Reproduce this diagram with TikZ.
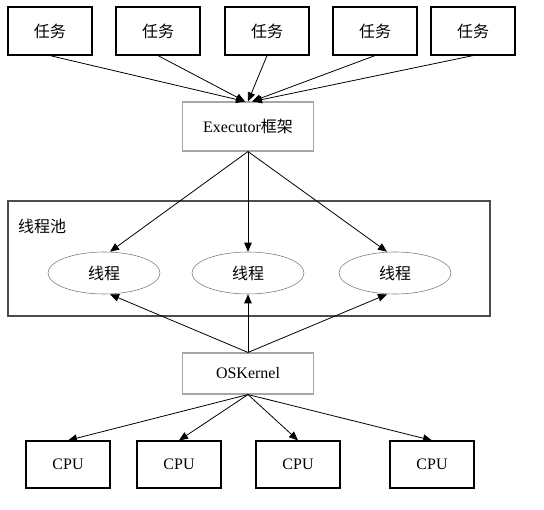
\documentclass[tikz,border=0pt]{standalone}
\usepackage{fontspec}
\setmainfont{Liberation Serif}
\newfontfamily\cjk{Noto Sans CJK SC}
\usetikzlibrary{shapes.geometric, arrows.meta}

\begin{document}
\begin{tikzpicture}[x=1pt,y=-1pt,
  font=\fontsize{16}{19}\selectfont,
  box/.style={draw, line width=1.2pt, minimum width=84pt, minimum height=48pt, inner sep=0pt},
  graybox/.style={draw=black!35, line width=1.1pt, minimum width=131pt, inner sep=0pt},
  thread/.style={ellipse, draw=black!50, line width=0.6pt, minimum width=112pt, minimum height=42pt, inner sep=0pt},
  arr/.style={-{Triangle[length=9pt,width=7.5pt]}, line width=0.8pt}]
\useasboundingbox (0,0) rectangle (544,510);
% tasks
\node[box] (t1) at (50,31) {\cjk 任务};
\node[box] (t2) at (158,31) {\cjk 任务};
\node[box] (t3) at (267,31) {\cjk 任务};
\node[box] (t4) at (375,31) {\cjk 任务};
\node[box] (t5) at (473,31) {\cjk 任务};
\node[graybox, minimum height=49pt] (exec) at (248,126.5) {Executor{\cjk 框架}};
% thread pool
\node[draw=black!70, line width=1.1pt, minimum width=482pt, minimum height=115pt, inner sep=0pt] (pool) at (249,258.5) {};
\node[anchor=west, inner sep=0pt] (poollabel) at (18,226) {\cjk 线程池};
\node[thread] (p1) at (104,273) {\cjk 线程};
\node[thread] (p2) at (248,273) {\cjk 线程};
\node[thread] (p3) at (395,273) {\cjk 线程};
\node[graybox, minimum height=41pt] (os) at (248,373.5) {OSKernel};
% cpus
\node[box, minimum height=47pt] (c1) at (68,464.5) {CPU};
\node[box, minimum height=47pt] (c2) at (179,464.5) {CPU};
\node[box, minimum height=47pt] (c3) at (298,464.5) {CPU};
\node[box, minimum height=47pt] (c4) at (432,464.5) {CPU};
% arrows
\foreach \i/\dx in {1/-3,2/-3,3/0,4/4,5/5}
  \draw[arr] (t\i.south) -- ([xshift=\dx pt]exec.north);
\foreach \i/\dx in {1/6,2/0,3/-8} {
  \draw[arr] (exec.south) -- ([xshift=\dx pt]p\i.north);
  \draw[arr] (os.north) -- ([xshift=\dx pt]p\i.south);
}
\foreach \i in {1,...,4}
  \draw[arr] (os.south) -- (c\i.north);
\end{tikzpicture}
\end{document}
